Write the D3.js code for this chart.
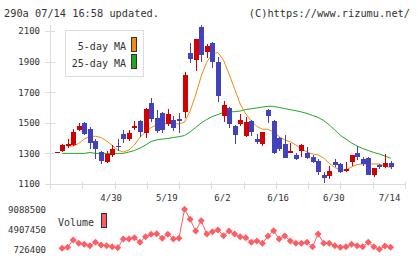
<!DOCTYPE html>
<html>
<head>
<meta charset="utf-8">
<script src="https://cdn.jsdelivr.net/npm/d3@7"></script>
<style>
html,body{margin:0;padding:0;background:#fff;}
svg{display:block;}
text{font-family:"DejaVu Sans Mono",monospace;fill:#333;}
</style>
</head>
<body>
<svg id="c" width="420" height="259"></svg>
<script>
// ---- data ----
const openP  = [1305,1318,1348,1353,1453,1498,1459,1381,1309,1246,1288,1346,1427,1392,1466,1514,1435,1628,1530,1563,1492,1518,1525,1572,1956,1908,2128,1965,2024,1899,1546,1597,1479,1494,1414,1512,1394,1361,1584,1512,1401,1361,1303,1290,1316,1303,1276,1250,1159,1152,1244,1231,1185,1244,1303,1263,1270,1161,1224,1211,1237];
const highP  = [1312,1361,1392,1459,1498,1505,1474,1392,1314,1314,1353,1394,1453,1453,1512,1518,1599,1662,1584,1571,1590,1546,1564,1834,2024,2048,2139,2015,2028,1928,1644,1603,1484,1558,1540,1518,1427,1440,1590,1518,1407,1420,1368,1303,1361,1342,1290,1263,1178,1218,1263,1237,1244,1290,1348,1276,1276,1205,1231,1296,1250];
const lowP   = [1305,1311,1337,1348,1444,1422,1331,1265,1231,1237,1276,1318,1366,1379,1453,1405,1403,1506,1436,1433,1476,1446,1432,1529,1893,1840,1899,1925,1860,1639,1507,1467,1362,1479,1408,1414,1361,1348,1499,1294,1316,1270,1303,1257,1276,1263,1237,1159,1107,1133,1211,1172,1178,1218,1257,1218,1161,1146,1198,1205,1198];
const closeP = [1311,1353,1361,1440,1479,1427,1370,1327,1252,1298,1327,1340,1392,1433,1482,1440,1590,1526,1448,1453,1558,1467,1514,1812,1919,2048,1945,2002,1897,1675,1616,1493,1422,1519,1505,1440,1375,1440,1544,1300,1329,1270,1316,1263,1355,1270,1244,1178,1139,1185,1224,1178,1198,1290,1276,1231,1161,1205,1211,1237,1211];
const ma5  = [null,null,1348,1348,1365,1394,1412,1412,1404,1381,1352,1322,1309,1322,1355,1407,1440,1469,1486,1492,1495,1495,1492,1505,1577,1682,1806,1897,1950,1959,1910,1819,1721,1623,1558,1512,1476,1458,1458,1440,1410,1388,1375,1355,1329,1309,1296,1290,1270,1234,1208,1192,1192,1211,1227,1231,1231,1231,1231,1218,1208];
const ma25 = [null,1300,1300,1300,1300,1300,1306,1300,1300,1300,1300,1300,1300,1309,1319,1335,1355,1378,1388,1394,1397,1404,1409,1417,1440,1469,1499,1522,1541,1554,1567,1571,1573,1577,1587,1592,1597,1603,1608,1607,1600,1593,1586,1579,1571,1561,1548,1535,1515,1486,1453,1417,1394,1368,1348,1332,1319,1306,1296,1283,1268];
const volume = [null,935000,1144000,2670000,1981000,1772000,1479000,2190000,1625000,1479000,1270000,1061000,2880000,2880000,3151000,2190000,3360000,3862000,3988000,3026000,3862000,2880000,3026000,9088500,6998000,4552000,6705000,3925000,4406000,4761000,3569000,4552000,3925000,3360000,3151000,2190000,2461000,1981000,3507000,4615000,2880000,3507000,2461000,1981000,1981000,2190000,1270000,3925000,1981000,1981000,1479000,1144000,1270000,1772000,1479000,1270000,2190000,1270000,726400,1416000,1144000];
const priceTicks = [1100,1300,1500,1700,1900,2100];
const volTicks = [726400,4907450,9088500];
const dateTickIdx = [10,20,30,40,50,60];
const dateTickLabels = ["4/30","5/19","6/2","6/16","6/30","7/14"];
const legendLabels = ["5-day MA","25-day MA"];

// ---- scales ----
const svg = d3.select("#c");
const n = closeP.length;
const x = d3.scaleLinear().domain([0, n-1]).range([56.5, 390.5]);
const y = d3.scaleLinear().domain([1100, 2100]).range([184, 31]);
const yv = d3.scaleLinear().domain([726400, 9088500]).range([249.3, 209.3]);
const gridX = d3.scaleLinear().domain([0, 11]).range([50, 405]);

const RED = "#d40000", BLUE = "#4242be", ORANGE = "#f08c10", GREEN = "#20a820", VOL = "#ff5c64", GRID = "#dcdcdc";

// header
svg.append("text").attr("x", 4).attr("y", 16.5).attr("font-size", 10.3).text("290a 07/14 16:58 updated.");
svg.append("text").attr("x", 410).attr("y", 16.5).attr("font-size", 10.3).attr("text-anchor", "end").text("(C)https://www.rizumu.net/");

// axes lines
const g = svg.append("g").attr("shape-rendering", "crispEdges");
g.append("line").attr("x1", 50.5).attr("x2", 50.5).attr("y1", 25).attr("y2", 189).attr("stroke", GRID);
g.append("line").attr("x1", 45).attr("x2", 406).attr("y1", 184.5).attr("y2", 184.5).attr("stroke", GRID);
g.selectAll(".xt").data(d3.range(12)).join("line")
  .attr("x1", d => Math.round(gridX(d)) + 0.5).attr("x2", d => Math.round(gridX(d)) + 0.5)
  .attr("y1", 182).attr("y2", 189).attr("stroke", GRID);
g.selectAll(".yt").data(priceTicks).join("line")
  .attr("x1", 45).attr("x2", 55).attr("y1", d => Math.round(y(d)) + 0.5).attr("y2", d => Math.round(y(d)) + 0.5)
  .attr("stroke", GRID);

svg.selectAll(".ylab").data(priceTicks).join("text")
  .attr("x", 40).attr("y", d => y(d) + 3.3).attr("font-size", 9).attr("text-anchor", "end").text(d => d);

svg.selectAll(".xlab").data(dateTickIdx).join("text")
  .attr("x", d => x(d) - 1).attr("y", 201).attr("font-size", 9).attr("text-anchor", "middle")
  .text((d, i) => dateTickLabels[i]);

// MA lines
const lineGen = d3.line().defined(d => d != null).x((d, i) => x(i)).y(d => y(d));
svg.append("path").datum(ma25).attr("d", lineGen).attr("fill", "none").attr("stroke", GREEN).attr("stroke-width", 1);
svg.append("path").datum(ma5).attr("d", lineGen).attr("fill", "none").attr("stroke", ORANGE).attr("stroke-width", 1);

// candles
const cg = svg.append("g").attr("shape-rendering", "crispEdges");
const idx = d3.range(n);
cg.selectAll(".wick").data(idx).join("line")
  .attr("x1", i => Math.round(x(i)) + 0.5).attr("x2", i => Math.round(x(i)) + 0.5)
  .attr("y1", i => y(highP[i])).attr("y2", i => y(lowP[i]))
  .attr("stroke", i => closeP[i] >= openP[i] ? RED : BLUE);
cg.selectAll(".body").data(idx).join("rect")
  .attr("x", i => Math.round(x(i)) - 2).attr("width", 5)
  .attr("y", i => y(Math.max(openP[i], closeP[i])))
  .attr("height", i => Math.max(1, y(Math.min(openP[i], closeP[i])) - y(Math.max(openP[i], closeP[i]))))
  .attr("fill", i => closeP[i] >= openP[i] ? RED : BLUE);

// legend
svg.append("rect").attr("x", 65.5).attr("y", 30.5).attr("width", 78).attr("height", 46)
  .attr("fill", "#fff").attr("stroke", GRID).attr("shape-rendering", "crispEdges");
svg.selectAll(".leg").data(legendLabels).join("text")
  .attr("x", 126).attr("y", (d, i) => 50 + i * 16.5).attr("font-size", 10).attr("text-anchor", "end").text(d => d);
svg.selectAll(".legsw").data([ORANGE, GREEN]).join("rect")
  .attr("x", 131.5).attr("y", (d, i) => 37.5 + i * 17).attr("width", 5).attr("height", 14)
  .attr("fill", d => d).attr("stroke", "#333").attr("shape-rendering", "crispEdges");

// volume
svg.selectAll(".vlab").data(volTicks).join("text")
  .attr("x", 46).attr("y", d => yv(d) + 3.3).attr("font-size", 9).attr("text-anchor", "end").text(d => d);
svg.append("text").attr("x", 58).attr("y", 226).attr("font-size", 10).text("Volume");
svg.append("rect").attr("x", 101.5).attr("y", 213.5).attr("width", 5).attr("height", 14)
  .attr("fill", VOL).attr("stroke", "#333").attr("shape-rendering", "crispEdges");

const vline = d3.line().defined(d => d != null).x((d, i) => x(i)).y(d => yv(d));
svg.append("path").datum(volume).attr("d", vline).attr("fill", "none").attr("stroke", VOL).attr("stroke-width", 1);
svg.selectAll(".vpt").data(idx.filter(i => volume[i] != null)).join("path")
  .attr("transform", i => `translate(${x(i)},${yv(volume[i])})`)
  .attr("d", "M0,-3.5L3.5,0L0,3.5L-3.5,0Z").attr("fill", VOL);
</script>
</body>
</html>
